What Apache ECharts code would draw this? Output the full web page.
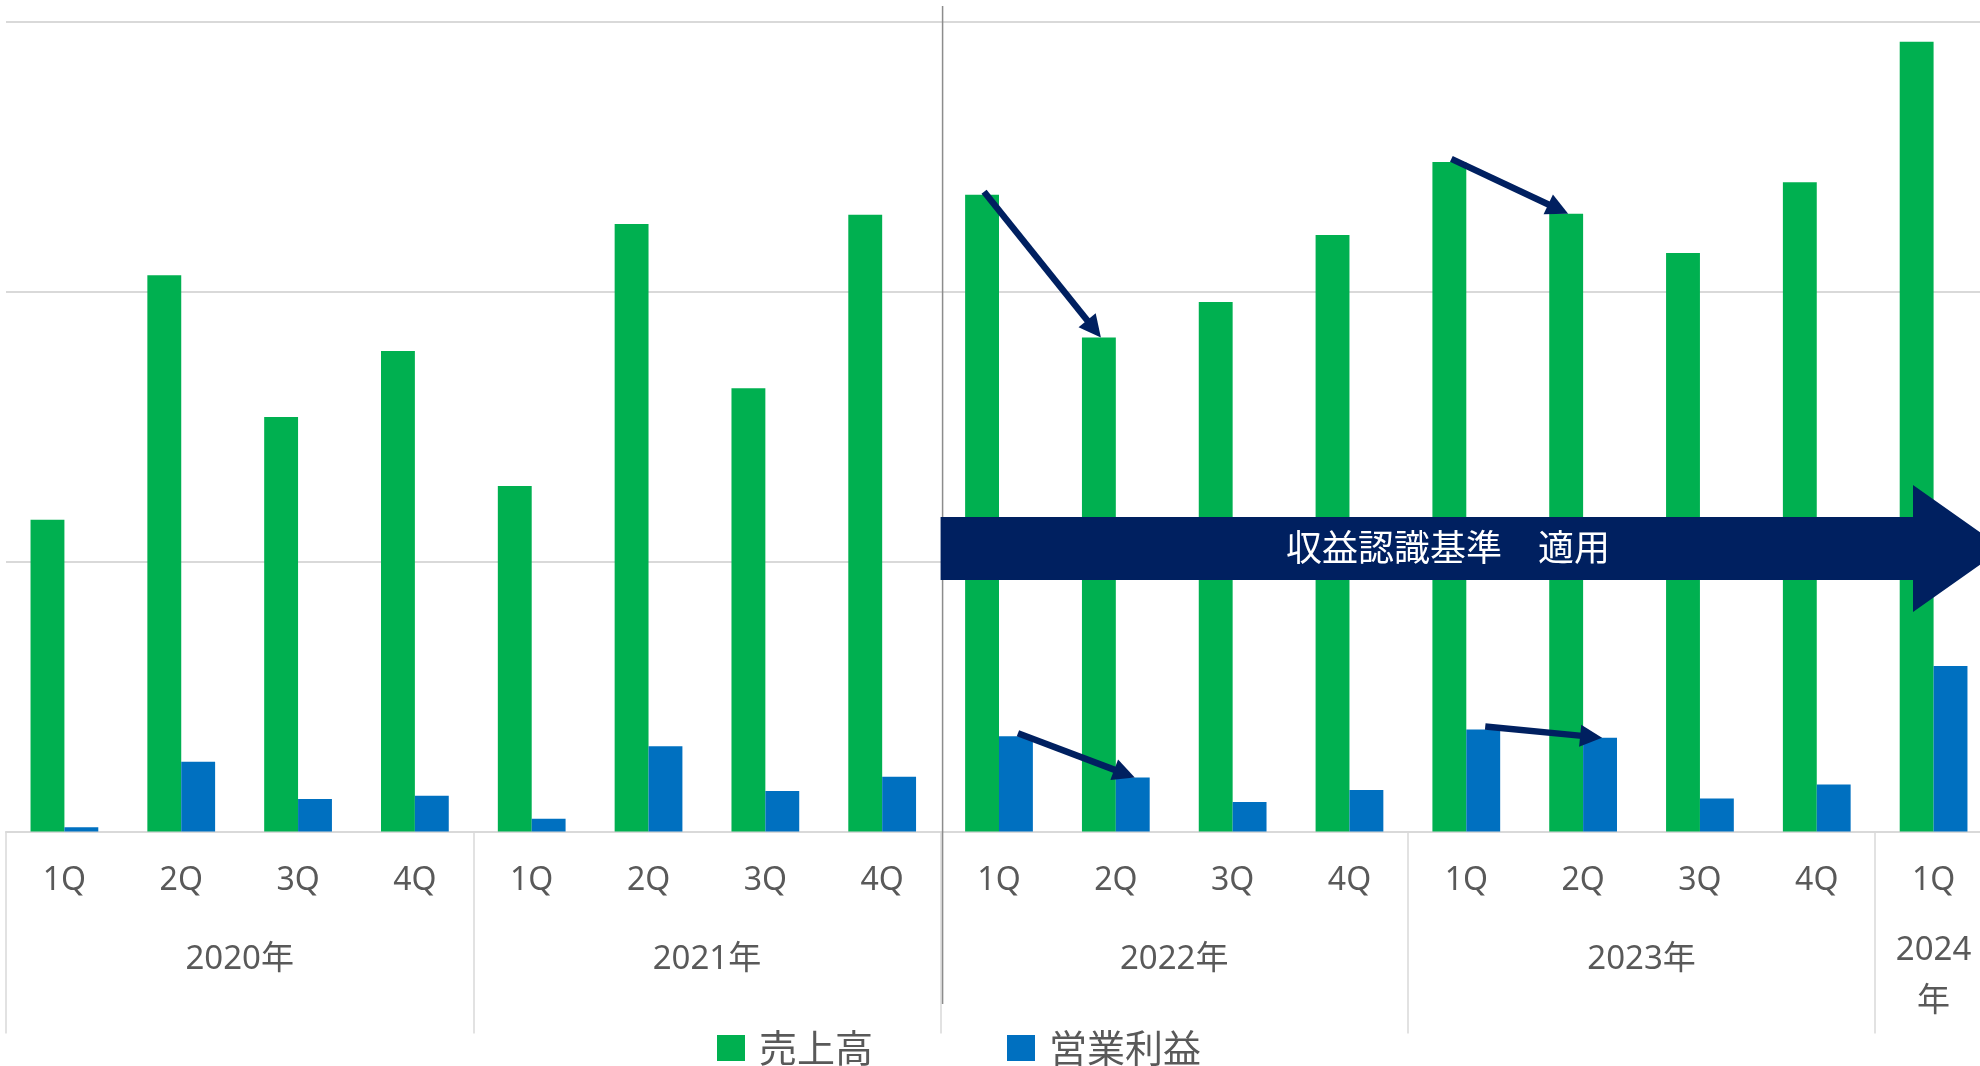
<!DOCTYPE html>
<html>
<head>
<meta charset="utf-8">
<script src="https://cdn.jsdelivr.net/npm/echarts@6/dist/echarts.min.js"></script>
<style>
html,body{margin:0;padding:0;background:#fff;}
#c{width:1980px;height:1066px;}
</style>
</head>
<body>
<div id="c"></div>
<script>
// ---- data ----
const quarters = ['1Q','2Q','3Q','4Q','1Q','2Q','3Q','4Q','1Q','2Q','3Q','4Q','1Q','2Q','3Q','4Q','1Q'];
const years = ['2020年','2021年','2022年','2023年','2024\n年'];
const quartersPerYear = [4,4,4,4,1];
const sales = [115.5,206.0,153.5,178.0, 128.0,225.0,164.2,228.4, 235.8,183.0,196.1,220.9, 248.0,228.8,214.3,240.5, 292.5];
const opProfit = [1.6,25.8,12.0,13.2, 4.7,31.6,15.0,20.3, 35.3,20.0,10.9,15.4, 37.8,34.7,12.2,17.4, 61.3];
const seriesNames = ['売上高','営業利益'];
const bannerText = '収益認識基準　適用';
const bannerStartIndex = 8; // boundary before 2022 1Q
const arrowPairs = [[0,8,9],[0,12,13],[1,8,9],[1,12,13]]; // [series, from, to]

// derived year label positions / separators
const yearCenters = [], yearBounds = [0];
let acc = 0;
quartersPerYear.forEach(n => { yearCenters.push(acc + n/2); acc += n; yearBounds.push(acc); });
yearBounds.pop();

const FONT = '"Noto Sans","Noto Sans CJK JP",sans-serif';
const CJK = '"Noto Sans CJK JP","Noto Sans",sans-serif';
const TXT = '#595959';
const GRID_C = '#d9d9d9';
const NAVY = '#002060';

const chart = echarts.init(document.getElementById('c'));
const option = {
  animation: false,
  backgroundColor: '#fff',
  grid: {left: 6, width: 1986, top: 21.5, bottom: 234.5, containLabel: false, outerBoundsMode: 'none'},
  legend: {
    data: seriesNames, left: 712, top: 1024, icon: 'rect',
    itemWidth: 28, itemHeight: 26, itemGap: 134,
    textStyle: {fontSize: 38, lineHeight: 38, color: TXT, fontFamily: CJK, padding: [0,0,0,9]}
  },
  xAxis: [
    {
      type: 'category', data: quarters, boundaryGap: true,
      axisLine: {show: true, lineStyle: {color: GRID_C, width: 2}},
      axisTick: {show: false},
      axisLabel: {fontSize: 32, color: TXT, fontFamily: FONT, margin: 29, lineHeight: 40, interval: 0}
    },
    {
      type: 'value', min: 0, max: quarters.length, position: 'bottom',
      axisLine: {show: false},
      splitLine: {show: false},
      axisTick: {show: true, customValues: yearBounds, length: 202, lineStyle: {color: GRID_C, width: 1.5}},
      axisLabel: {
        customValues: yearCenters, margin: 94, color: TXT, fontFamily: FONT,
        formatter: function (v) {
          const i = yearCenters.indexOf(v);
          const s = years[i] || '';
          if (s.indexOf('\n') >= 0) return s.split('\n').map(t => '{b|' + t + '}').join('\n');
          return '{a|' + s + '}';
        },
        rich: {
          a: {fontSize: 33, color: TXT, fontFamily: FONT, lineHeight: 68},
          b: {fontSize: 33, color: TXT, fontFamily: FONT, lineHeight: 51}
        }
      }
    }
  ],
  yAxis: {
    type: 'value', min: 0, max: 300, interval: 100,
    axisLabel: {show: false}, axisLine: {show: false}, axisTick: {show: false},
    splitLine: {show: true, lineStyle: {color: GRID_C, width: 2}}
  },
  series: [
    {name: seriesNames[0], type: 'bar', data: sales, itemStyle: {color: '#00B050'}, barGap: '0%', barCategoryGap: '42%'},
    {name: seriesNames[1], type: 'bar', data: opProfit, itemStyle: {color: '#0070C0'}, barGap: '0%', barCategoryGap: '42%'}
  ]
};
chart.setOption(option);

// ---- annotations positioned from the axes ----
function px(idx, val) { return chart.convertToPixel({xAxisIndex: 0, yAxisIndex: 0}, [idx, val]); }
const band = px(1, 0)[0] - px(0, 0)[0];
const barW = band * 0.58 / 2;
function barTop(s, i) {
  const v = s === 0 ? sales[i] : opProfit[i];
  const p = px(i, v);
  return [p[0] + (s === 0 ? -barW/2 : barW/2), p[1]];
}
const graphics = [];
// vertical divider
const divX = px(bannerStartIndex, 0)[0] - band/2;
graphics.push({type: 'line', shape: {x1: divX + 2, y1: 6, x2: divX + 2, y2: 1004}, style: {stroke: '#8c8c8c', lineWidth: 1.5}, z: 50});
// big banner arrow
const bx0 = divX, bodyT = 517, bodyB = 580, headT = 485, headB = 612, headX = 1913, tipX = 2003, midY = (headT + headB)/2;
graphics.push({type: 'polygon', shape: {points: [[bx0, bodyT],[headX, bodyT],[headX, headT],[tipX, midY],[headX, headB],[headX, bodyB],[bx0, bodyB]]}, style: {fill: NAVY}, z: 60});
graphics.push({type: 'text', x: 1448, y: midY - 1, style: {text: bannerText, fill: '#fff', fontSize: 36, fontFamily: CJK, align: 'center', verticalAlign: 'middle'}, z: 61});
// small arrows
arrowPairs.forEach(([s, a, b]) => {
  const p0 = barTop(s, a); p0[1] -= 3; p0[0] += 2;
  const p1 = barTop(s, b); p1[0] += 2;
  const dx = p1[0] - p0[0], dy = p1[1] - p0[1];
  const L = Math.hypot(dx, dy), ux = dx / L, uy = dy / L;
  const hl = 22, hw = 11;
  const bxp = p1[0] - ux * hl, byp = p1[1] - uy * hl;
  graphics.push({type: 'line', shape: {x1: p0[0], y1: p0[1], x2: bxp + ux*2, y2: byp + uy*2}, style: {stroke: NAVY, lineWidth: 6.5}, z: 70});
  graphics.push({type: 'polygon', shape: {points: [[p1[0], p1[1]], [bxp - uy*hw, byp + ux*hw], [bxp + uy*hw, byp - ux*hw]]}, style: {fill: NAVY}, z: 70});
});
chart.setOption({graphic: graphics});
</script>
</body>
</html>
